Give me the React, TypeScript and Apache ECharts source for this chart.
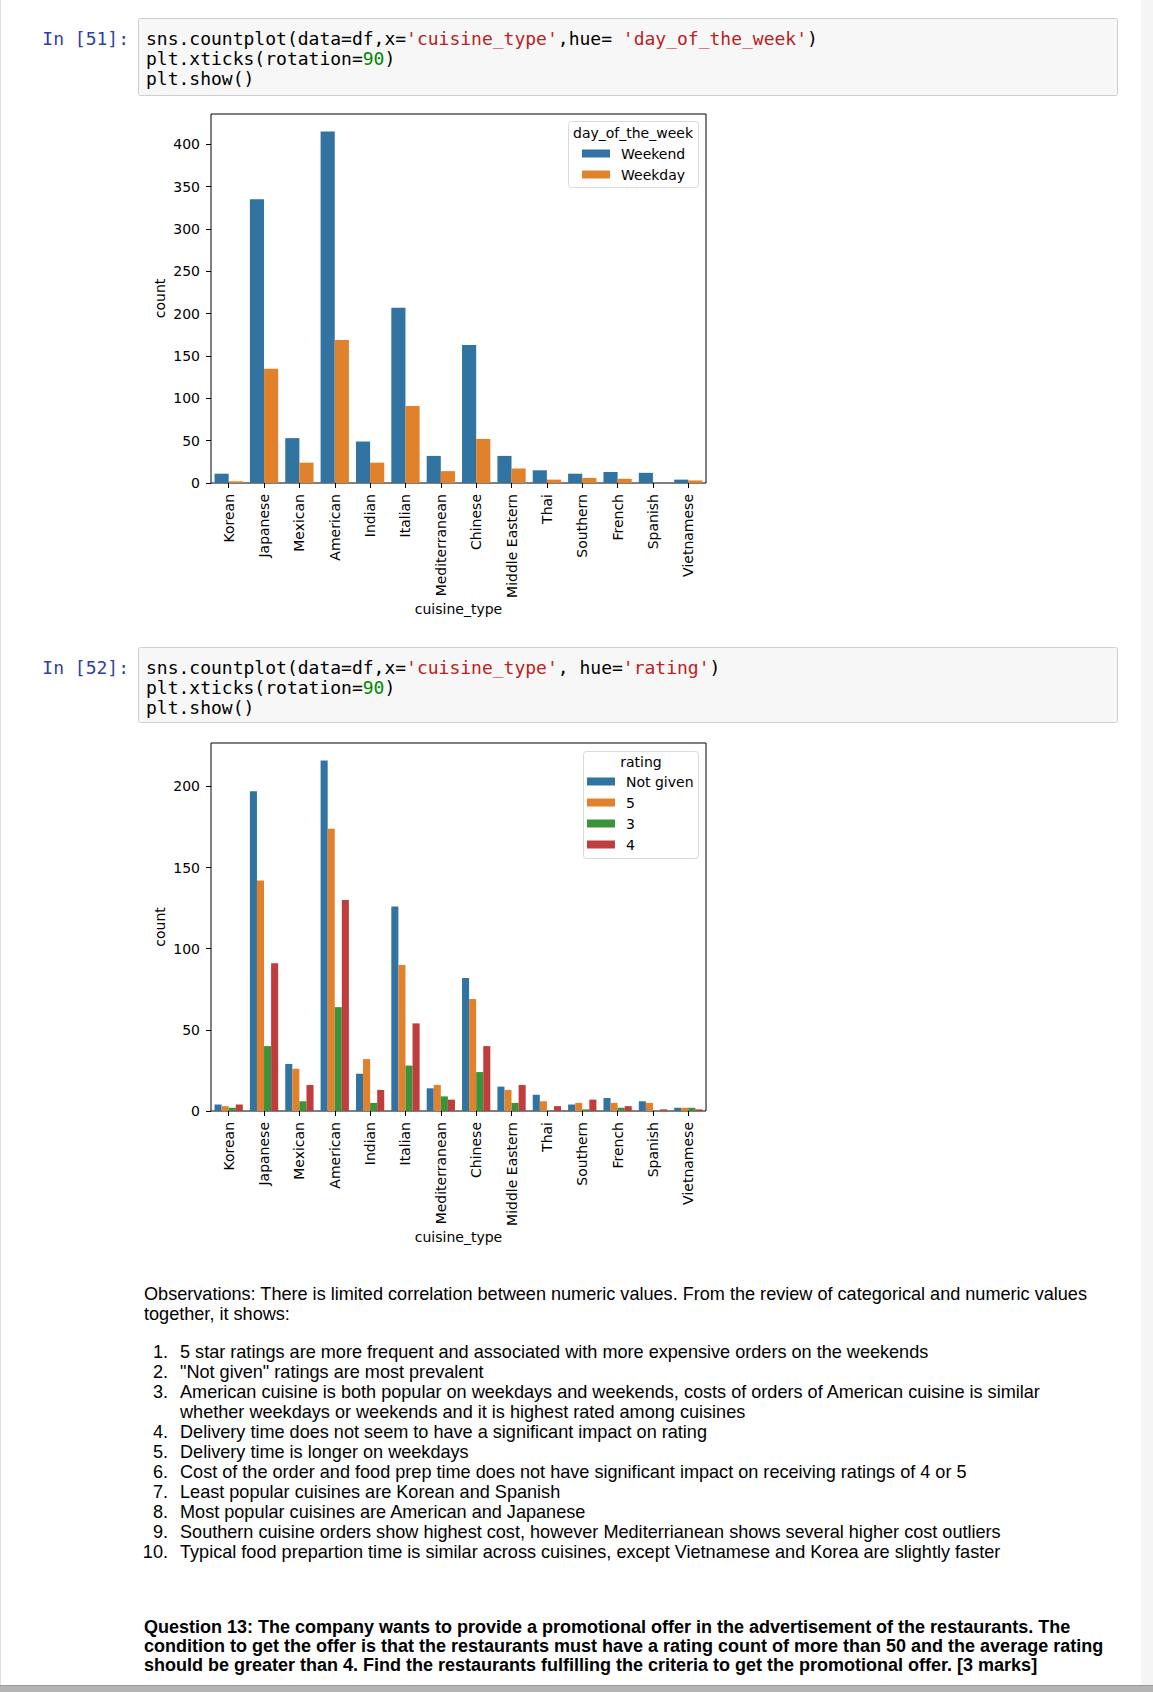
import React, { useEffect, useRef } from 'react';
import * as echarts from 'echarts';

// ---------------- data ----------------
const cuisines = ['Korean', 'Japanese', 'Mexican', 'American', 'Indian', 'Italian', 'Mediterranean', 'Chinese', 'Middle Eastern', 'Thai', 'Southern', 'French', 'Spanish', 'Vietnamese'];

const dayNames = ['Weekend', 'Weekday'];
const weekendCounts = [11, 335, 53, 415, 49, 207, 32, 163, 32, 15, 11, 13, 12, 4];
const weekdayCounts = [2, 135, 24, 169, 24, 91, 14, 52, 17, 4, 6, 5, 0, 3];
const dayTicks = [0, 50, 100, 150, 200, 250, 300, 350, 400];

const ratingNames = ['Not given', '5', '3', '4'];
const notGivenCounts = [4, 197, 29, 216, 23, 126, 14, 82, 15, 10, 4, 8, 6, 2];
const rating5Counts = [3, 142, 26, 174, 32, 90, 16, 69, 13, 6, 5, 5, 5, 2];
const rating3Counts = [2, 40, 6, 64, 5, 28, 9, 24, 5, 0, 1, 2, 0, 2];
const rating4Counts = [4, 91, 16, 130, 13, 54, 7, 40, 16, 3, 7, 3, 1, 1];
const ratingTicks = [0, 50, 100, 150, 200];

const seabornColors = ['#3274a1', '#e1812c', '#3a923a', '#c03d3e'];

// code cells: segments [text, kind]
type Seg = [string, string?];
const cell1Prompt = 'In [51]:';
const cell1Lines: Seg[][] = [
  [['sns.countplot(data=df,x='], ["'cuisine_type'", 's'], [',hue= '], ["'day_of_the_week'", 's'], [')']],
  [['plt.xticks(rotation='], ['90', 'n'], [')']],
  [['plt.show()']],
];
const cell2Prompt = 'In [52]:';
const cell2Lines: Seg[][] = [
  [['sns.countplot(data=df,x='], ["'cuisine_type'", 's'], [', hue='], ["'rating'", 's'], [')']],
  [['plt.xticks(rotation='], ['90', 'n'], [')']],
  [['plt.show()']],
];

const observationIntro = [
  'Observations: There is limited correlation between numeric values. From the review of categorical and numeric values',
  'together, it shows:',
];
const observationItems: string[][] = [
  ['5 star ratings are more frequent and associated with more expensive orders on the weekends'],
  ['"Not given" ratings are most prevalent'],
  ['American cuisine is both popular on weekdays and weekends, costs of orders of American cuisine is similar', 'whether weekdays or weekends and it is highest rated among cuisines'],
  ['Delivery time does not seem to have a significant impact on rating'],
  ['Delivery time is longer on weekdays'],
  ['Cost of the order and food prep time does not have significant impact on receiving ratings of 4 or 5'],
  ['Least popular cuisines are Korean and Spanish'],
  ['Most popular cuisines are American and Japanese'],
  ['Southern cuisine orders show highest cost, however Mediterrianean shows several higher cost outliers'],
  ['Typical food prepartion time is similar across cuisines, except Vietnamese and Korea are slightly faster'],
];
const questionLines = [
  'Question 13: The company wants to provide a promotional offer in the advertisement of the restaurants. The',
  'condition to get the offer is that the restaurants must have a rating count of more than 50 and the average rating',
  'should be greater than 4. Find the restaurants fulfilling the criteria to get the promotional offer. [3 marks]',
];

// ---------------- helpers ----------------
const W = 1153;
const H = 1692;
const MONO = 'DejaVu Sans Mono';
const SANS = 'Liberation Sans';
const PLOT_FONT = 'DejaVu Sans';
const PLOT_SIZE = 14;

function richLine(segs: Seg[]) {
  return segs.map(([t, k]) => (k ? `{${k}|${t}}` : t)).join('');
}

function codeCell(prompt: string, lines: Seg[][], top: number, height: number, firstLineY: number) {
  const els: any[] = [];
  els.push({
    type: 'rect', z: 1,
    shape: { x: 138.5, y: top + 0.5, width: 979, height, r: 2 },
    style: { fill: '#f7f7f7', stroke: '#cfcfcf', lineWidth: 1 },
  });
  els.push({
    type: 'text', z: 2, x: 129, y: firstLineY,
    style: { text: prompt, fill: '#303F9F', fontFamily: MONO, fontSize: 18, align: 'right', verticalAlign: 'middle' },
  });
  lines.forEach((segs, i) => {
    els.push({
      type: 'text', z: 2, x: 146, y: firstLineY + i * 20,
      style: {
        text: richLine(segs), fill: '#000', fontFamily: MONO, fontSize: 18, align: 'left', verticalAlign: 'middle',
        rich: {
          s: { fill: '#BA2121', fontFamily: MONO, fontSize: 18 },
          n: { fill: '#008800', fontFamily: MONO, fontSize: 18 },
        },
      },
    });
  });
  return els;
}

function legendFrame(x: number, y: number, w: number, h: number, title: string, titleX: number, titleY: number) {
  return [
    {
      type: 'rect', z: 3,
      shape: { x: x + 0.5, y: y + 0.5, width: w, height: h, r: 3 },
      style: { fill: 'rgba(255,255,255,0.8)', stroke: '#d9d9d9', lineWidth: 1 },
    },
    {
      type: 'text', z: 5, x: titleX, y: titleY,
      style: { text: title, fill: '#000', fontFamily: PLOT_FONT, fontSize: PLOT_SIZE, align: 'center', verticalAlign: 'middle' },
    },
  ];
}

function xAxisFor(gridIndex: number) {
  return {
    type: 'category', gridIndex, data: cuisines,
    axisLine: { show: false },
    axisTick: { show: true, alignWithLabel: true, length: 5, lineStyle: { color: '#000', width: 1 } },
    axisLabel: { rotate: 90, interval: 0, margin: 11, fontSize: PLOT_SIZE, color: '#000', fontFamily: PLOT_FONT },
    splitLine: { show: false },
    name: 'cuisine_type', nameLocation: 'middle', nameGap: 117,
    nameTextStyle: { fontSize: PLOT_SIZE, color: '#000', fontFamily: PLOT_FONT },
  };
}

function yAxisFor(gridIndex: number, max: number, ticks: number[]) {
  return {
    type: 'value', gridIndex, min: 0, max,
    axisLine: { show: false },
    axisTick: { show: true, length: 5, lineStyle: { color: '#000', width: 1 }, customValues: ticks },
    axisLabel: { customValues: ticks, margin: 11, fontSize: PLOT_SIZE, color: '#000', fontFamily: PLOT_FONT },
    splitLine: { show: false },
    name: 'count', nameLocation: 'middle', nameGap: 44,
    nameTextStyle: { fontSize: PLOT_SIZE, color: '#000', fontFamily: PLOT_FONT },
  };
}

function barSeries(name: string, data: number[], color: string, axis: number) {
  return {
    type: 'bar', name, data, xAxisIndex: axis, yAxisIndex: axis,
    barGap: '0%', barCategoryGap: '20%',
    itemStyle: { color },
    emphasis: { disabled: true },
  };
}

function legendFor(names: string[], left: number, top: number) {
  return {
    show: true, data: names, orient: 'vertical', left, top, padding: 0,
    itemWidth: 28, itemHeight: 8, itemGap: 6, icon: 'rect', selectedMode: false,
    textStyle: { fontSize: PLOT_SIZE, lineHeight: 15, color: '#000', fontFamily: PLOT_FONT, padding: [0, 0, 0, 6] },
  };
}

function buildOption() {
  const dayMax = Math.max(...weekendCounts, ...weekdayCounts) * 1.05;
  const ratingMax = Math.max(...notGivenCounts, ...rating5Counts, ...rating3Counts, ...rating4Counts) * 1.05;

  const graphics: any[] = [];
  // page chrome
  graphics.push({ type: 'rect', z: 0, shape: { x: 0, y: 0, width: 1, height: 1685 }, style: { fill: '#dedede' } });
  graphics.push({ type: 'rect', z: 0, shape: { x: 1141, y: 0, width: 12, height: 1685 }, style: { fill: '#f5f5f5' } });
  graphics.push({ type: 'rect', z: 0, shape: { x: 0, y: 1685, width: W, height: 7 }, style: { fill: '#b4b4b4' } });
  graphics.push({ type: 'rect', z: 0, shape: { x: 0, y: 1685, width: W, height: 1 }, style: { fill: '#9a9a9a' } });

  graphics.push(...codeCell(cell1Prompt, cell1Lines, 18, 77, 38));
  graphics.push(...codeCell(cell2Prompt, cell2Lines, 647, 75, 667));

  graphics.push(...legendFrame(568, 121, 130, 66, 'day_of_the_week', 633, 133));
  graphics.push(...legendFrame(583, 751, 115, 107, 'rating', 641, 762));

  observationIntro.forEach((t, i) => {
    graphics.push({
      type: 'text', z: 2, x: 144, y: 1294 + i * 20,
      style: { text: t, fill: '#000', fontFamily: SANS, fontSize: 18.1, align: 'left', verticalAlign: 'middle' },
    });
  });
  let row = 0;
  observationItems.forEach((lines, idx) => {
    lines.forEach((t, j) => {
      const y = 1352 + row * 20;
      if (j === 0) {
        graphics.push({
          type: 'text', z: 2, x: 168, y,
          style: { text: `${idx + 1}.`, fill: '#000', fontFamily: SANS, fontSize: 18.1, align: 'right', verticalAlign: 'middle' },
        });
      }
      graphics.push({
        type: 'text', z: 2, x: 180, y,
        style: { text: t, fill: '#000', fontFamily: SANS, fontSize: 18.1, align: 'left', verticalAlign: 'middle' },
      });
      row += 1;
    });
  });
  questionLines.forEach((t, i) => {
    graphics.push({
      type: 'text', z: 2, x: 144, y: 1627 + i * 19,
      style: { text: t, fill: '#000', fontFamily: SANS, fontSize: 18, fontWeight: 'bold', align: 'left', verticalAlign: 'middle' },
    });
  });

  return {
    animation: false,
    backgroundColor: '#ffffff',
    textStyle: { fontFamily: PLOT_FONT },
    grid: [
      { left: 211, top: 114, width: 495, height: 369, show: true, borderColor: '#000', borderWidth: 1, backgroundColor: 'transparent', containLabel: false, outerBoundsMode: 'none' },
      { left: 211, top: 743, width: 495, height: 368, show: true, borderColor: '#000', borderWidth: 1, backgroundColor: 'transparent', containLabel: false, outerBoundsMode: 'none' },
    ],
    xAxis: [xAxisFor(0), xAxisFor(1)],
    yAxis: [yAxisFor(0, dayMax, dayTicks), yAxisFor(1, ratingMax, ratingTicks)],
    legend: [legendFor(dayNames, 582, 146), legendFor(ratingNames, 587, 774)],
    series: [
      barSeries(dayNames[0], weekendCounts, seabornColors[0], 0),
      barSeries(dayNames[1], weekdayCounts, seabornColors[1], 0),
      barSeries(ratingNames[0], notGivenCounts, seabornColors[0], 1),
      barSeries(ratingNames[1], rating5Counts, seabornColors[1], 1),
      barSeries(ratingNames[2], rating3Counts, seabornColors[2], 1),
      barSeries(ratingNames[3], rating4Counts, seabornColors[3], 1),
    ],
    graphic: { elements: graphics },
  };
}

export default function App() {
  const ref = useRef<HTMLDivElement>(null);
  useEffect(() => {
    if (!ref.current) return;
    const chart = echarts.init(ref.current, undefined, { renderer: 'svg', width: W, height: H });
    chart.setOption(buildOption() as any);
    return () => chart.dispose();
  }, []);
  return (
    <div style={{ position: 'absolute', left: 0, top: 0, width: W, height: H, background: '#fff' }}>
      <div ref={ref} style={{ width: W, height: H }} />
    </div>
  );
}
